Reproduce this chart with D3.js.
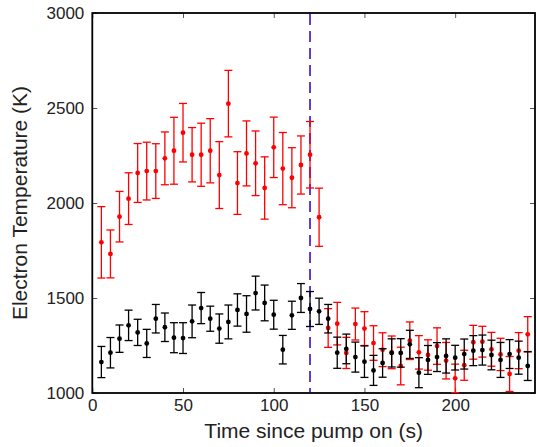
<!DOCTYPE html>
<html>
<head>
<meta charset="utf-8">
<script src="https://cdn.jsdelivr.net/npm/d3@7/dist/d3.min.js"></script>
<style>
  html, body { margin: 0; padding: 0; background: #fff; }
  svg text { font-family: "Liberation Sans", Arial, Helvetica, sans-serif; fill: #222; }
</style>
</head>
<body>
<svg id="chart" width="537" height="447"></svg>
<script>
// time since pump on (s)
var times = [5, 10, 15, 20, 25, 30, 35, 40, 45, 50, 55, 60, 65, 70, 75, 80, 85, 90, 95, 100,
  105, 110, 115, 120, 125, 130, 135, 140, 145, 150, 155, 160, 165, 170, 175, 180, 185, 190, 195, 200,
  205, 210, 215, 220, 225, 230, 235, 240];

// red series (K) and its error
var redTemp = [1793, 1732, 1928, 2023, 2158, 2168, 2168, 2235, 2275, 2370, 2254, 2254, 2275, 2147, 2523, 2105,
  2261, 2209, 2079, 2293, 2181, 2133, 2200, 2254, 1925, 1342, 1365, 1211, 1363, 1339, 1263, 1228,
  1214, 1142, 1275, 1214, 1200, 1247, 1170, 1077, 1146, 1267, 1270, 1230, 1203, 1100, 1223, 1309];
var redErr = [188, 126, 133, 136, 155, 152, 144, 139, 176, 154, 143, 166, 169, 176, 175, 165,
  171, 170, 164, 159, 190, 158, 153, 175, 153, 102, 112, 82, 84, 89, 91, 89,
  86, 99, 99, 88, 80, 96, 96, 75, 79, 89, 81, 89, 85, 92, 95, 93];

// black series (K) and its error
var blackTemp = [1163, 1212, 1286, 1356, 1319, 1261, 1391, 1346, 1291, 1289, 1377, 1447, 1391, 1339, 1374, 1437,
  1416, 1526, 1474, 1412, 1228, 1409, 1500, 1442, 1430, 1391, 1212, 1232, 1189, 1165, 1119, 1158,
  1211, 1211, 1256, 1107, 1174, 1189, 1195, 1186, 1205, 1223, 1226, 1200, 1174, 1205, 1186, 1142];
var blackErr = [82, 80, 72, 80, 69, 74, 75, 75, 79, 81, 86, 82, 66, 77, 89, 85,
  96, 89, 94, 76, 75, 74, 76, 92, 69, 75, 82, 78, 79, 83, 79, 75,
  74, 75, 74, 79, 76, 76, 90, 65, 79, 79, 79, 78, 92, 76, 87, 76];

var xTicks = [0, 50, 100, 150, 200];
var yTicks = [1000, 1500, 2000, 2500, 3000];
var pumpOff = 120;

var svg = d3.select("#chart"),
  mLeft = 92.3, mRight = 535, mTop = 13, mBottom = 393;

var x = d3.scaleLinear().domain([0, 244]).range([mLeft, mRight]);
var y = d3.scaleLinear().domain([1000, 3000]).range([mBottom, mTop]);

// axes, ticks pointing inward on all four sides
var gx = svg.append("g").attr("transform", "translate(0," + mBottom + ")")
  .call(d3.axisBottom(x).tickValues(xTicks).tickSize(-5).tickPadding(6).tickFormat(d3.format("d")));
var gxTop = svg.append("g").attr("transform", "translate(0," + mTop + ")")
  .call(d3.axisTop(x).tickValues(xTicks).tickSize(-5).tickFormat(""));
var gy = svg.append("g").attr("transform", "translate(" + mLeft + ",0)")
  .call(d3.axisLeft(y).tickValues(yTicks).tickSize(-5).tickPadding(8).tickFormat(d3.format("d")));
var gyRight = svg.append("g").attr("transform", "translate(" + mRight + ",0)")
  .call(d3.axisRight(y).tickValues(yTicks).tickSize(-5).tickFormat(""));

[gx, gxTop, gy, gyRight].forEach(function (g) {
  g.select(".domain").remove();
  g.selectAll(".tick line").attr("stroke", "#555").attr("stroke-width", 1);
  g.selectAll(".tick text").style("font-size", "17px").attr("fill", "#222");
});
gx.selectAll(".tick text").attr("dy", "0.71em");

svg.append("rect")
  .attr("x", mLeft).attr("y", mTop)
  .attr("width", mRight - mLeft).attr("height", mBottom - mTop)
  .attr("fill", "none").attr("stroke", "#000").attr("stroke-width", 1.8);

// pump-off marker
svg.append("line")
  .attr("x1", x(pumpOff)).attr("x2", x(pumpOff))
  .attr("y1", mTop + 1).attr("y2", mBottom - 1)
  .attr("stroke", "#4f27d8").attr("stroke-width", 1.8)
  .attr("stroke-dasharray", "11,6");

function drawSeries(vals, errs, color) {
  var g = svg.append("g");
  var pts = times.map(function (t, i) {
    return { t: t, v: vals[i], e: errs[i] };
  });
  var bar = g.selectAll("g.bar").data(pts).enter().append("g").attr("class", "bar")
    .attr("stroke", color).attr("stroke-width", 1.3);
  bar.append("line")
    .attr("x1", function (d) { return x(d.t); })
    .attr("x2", function (d) { return x(d.t); })
    .attr("y1", function (d) { return y(d.v - d.e); })
    .attr("y2", function (d) { return y(d.v + d.e); });
  bar.append("line")
    .attr("x1", function (d) { return x(d.t) - 4; })
    .attr("x2", function (d) { return x(d.t) + 4; })
    .attr("y1", function (d) { return y(d.v + d.e); })
    .attr("y2", function (d) { return y(d.v + d.e); });
  bar.append("line")
    .attr("x1", function (d) { return x(d.t) - 4; })
    .attr("x2", function (d) { return x(d.t) + 4; })
    .attr("y1", function (d) { return y(d.v - d.e); })
    .attr("y2", function (d) { return y(d.v - d.e); });
  g.selectAll("circle").data(pts).enter().append("circle")
    .attr("cx", function (d) { return x(d.t); })
    .attr("cy", function (d) { return y(d.v); })
    .attr("r", 2.4)
    .attr("fill", color);
}

drawSeries(redTemp, redErr, "#ff0000");
drawSeries(blackTemp, blackErr, "#000000");

svg.append("text")
  .attr("x", (mLeft + mRight) / 2).attr("y", 438)
  .attr("text-anchor", "middle")
  .style("font-size", "21px")
  .text("Time since pump on (s)");

svg.append("text")
  .attr("transform", "translate(27," + ((mTop + mBottom) / 2) + ") rotate(-90)")
  .attr("text-anchor", "middle")
  .style("font-size", "21px")
  .text("Electron Temperature (K)");
</script>
</body>
</html>
